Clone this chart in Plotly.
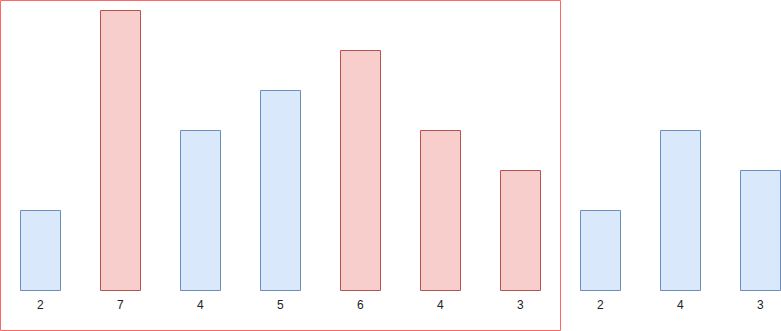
import plotly.graph_objects as go

values = [2, 7, 4, 5, 6, 4, 3, 2, 4, 3]
labels = [str(v) for v in values]
highlighted = [False, True, False, False, True, True, True, False, False, False]
frame_group = 7  # first seven bars are enclosed by the red frame

W, H = 781, 331
step = 80  # px per category
unit = 40  # px per value unit
x_idx = list(range(len(values)))
off = 0.5 / step  # sub-pixel shift

fig = go.Figure()
for flag, fc, lc in [(False, "#dae8fc", "#6c8ebf"), (True, "#f8cecc", "#b85450")]:
    xs = [i for i, h in zip(x_idx, highlighted) if h == flag]
    ys = [v for v, h in zip(values, highlighted) if h == flag]
    fig.add_trace(go.Bar(
        x=xs, y=ys, width=0.5,
        marker=dict(color=fc, line=dict(color=lc, width=1)),
        hoverinfo="skip", showlegend=False,
    ))

for i, t in zip(x_idx, labels):
    fig.add_annotation(x=i, y=0, xref="x", yref="y", text=t, showarrow=False,
                       yanchor="top", yshift=-5, xshift=-1,
                       font=dict(family="Liberation Sans, Arial, sans-serif", size=12, color="#222222"))

plot_h = 291
fig.add_shape(type="rect", xref="paper", yref="paper",
              x0=0.5 / W, x1=(frame_group * step + 0.5) / W,
              y0=1 - 330.5 / plot_h, y1=1 - 0.5 / plot_h,
              line=dict(color="#ff6666", width=1), fillcolor="rgba(0,0,0,0)")

fig.update_layout(
    width=W, height=H,
    margin=dict(l=0, r=0, t=0, b=H - plot_h),
    paper_bgcolor="white", plot_bgcolor="white",
    xaxis=dict(range=[-0.5 - 2 * off, W / step - 0.5 - 2 * off], visible=False, fixedrange=True),
    yaxis=dict(range=[-0.5 / unit, (plot_h - 0.5) / unit], visible=False, fixedrange=True),
    barmode="overlay", bargap=0,
)
fig.write_html("out.html", config={"displayModeBar": False})
